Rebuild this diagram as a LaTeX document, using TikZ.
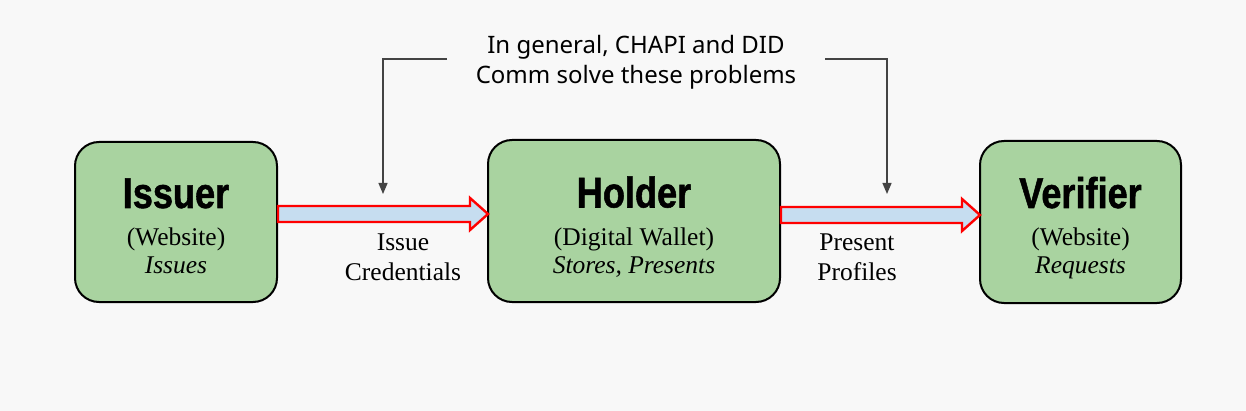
\documentclass[tikz,border=0pt]{standalone}
\usepackage{fontspec}
\setmainfont{Liberation Serif}
\newfontfamily\titlefont[FakeStretch=0.84,FakeBold=1.2]{Liberation Sans}
\newfontfamily\topfont{Noto Sans}
\usetikzlibrary{calc,arrows.meta}
\definecolor{bg}{HTML}{F8F8F8}
\definecolor{boxgreen}{HTML}{A9D3A0}
\definecolor{arrowblue}{HTML}{C6DDF0}
\definecolor{linegray}{HTML}{444444}
\tikzset{
  actor/.style={draw=black, line width=2pt, fill=boxgreen, rounded corners=24pt, inner sep=0pt},
  ttl/.style={anchor=base, font=\titlefont\bfseries\fontsize{43}{43}\selectfont},
  sub/.style={anchor=base, font=\fontsize{25.5}{28}\selectfont},
  lbl/.style={anchor=base, font=\fontsize{25.5}{28}\selectfont},
  bigarrow/.style={draw=red, line width=2.4pt, fill=arrowblue, line join=miter},
  conn/.style={draw=linegray, line width=1.3pt, -{Triangle[length=11pt,width=9pt]}},
}
\begin{document}
\begin{tikzpicture}[x=1pt,y=-1pt]
\fill[bg] (0,0) rectangle (1246,411);
\useasboundingbox (0,0) rectangle (1246,411);
% boxes
\node[actor, minimum width=202pt, minimum height=160pt] (iss) at (176,222) {};
\node[actor, minimum width=292pt, minimum height=162pt] (hol) at (634,221) {};
\node[actor, minimum width=201pt, minimum height=162pt] (ver) at (1080.5,222) {};
% texts in boxes
\node[ttl] (issT) at (176,208) {Issuer};
\node[sub] (issS) at (176,246) {(Website)};
\node[sub] (issI) at (176,274) {\itshape Issues};
\node[ttl] (holT) at (634,207.5) {Holder};
\node[sub] (holS) at (634,246) {(Digital Wallet)};
\node[sub] (holI) at (634,274) {\itshape Stores, Presents};
\node[ttl] (verT) at (1080.5,208) {Verifier};
\node[sub] (verS) at (1080.5,246) {(Website)};
\node[sub] (verI) at (1080.5,274) {\itshape Requests};
% big arrows
\coordinate (a1s) at (iss.east |- 0,214);
\coordinate (a1e) at (hol.west |- 0,214);
\coordinate (a2s) at (hol.east |- 0,215);
\coordinate (a2e) at (ver.west |- 0,215);
\draw[bigarrow] ($(a1s)+(0,-8)$) -- ($(a1e)+(-17,-8)$) -- ($(a1e)+(-17,-16)$)
  -- ($(a1e)+(1,0)$) -- ($(a1e)+(-17,16)$) -- ($(a1e)+(-17,8)$) -- ($(a1s)+(0,8)$) -- cycle;
\draw[bigarrow] ($(a2s)+(0,-8)$) -- ($(a2e)+(-17,-8)$) -- ($(a2e)+(-17,-16)$)
  -- ($(a2e)+(1,0)$) -- ($(a2e)+(-17,16)$) -- ($(a2e)+(-17,8)$) -- ($(a2s)+(0,8)$) -- cycle;
% arrow labels
\node[lbl] (l1a) at (403,251) {Issue};
\node[lbl] (l1b) at (403,280) {Credentials};
\node[lbl] (l2a) at (857,251) {Present};
\node[lbl] (l2b) at (857,280) {Profiles};
% top note
\node[anchor=base, font=\topfont\fontsize{24}{30}\selectfont] (top1) at (636,54) {In general, CHAPI and DID};
\node[anchor=base, font=\topfont\fontsize{24}{30}\selectfont] (top2) at (636,84) {Comm solve these problems};
\coordinate (cl) at (447,59);
\coordinate (cr) at (825,59);
\coordinate (tl) at (383,194);
\coordinate (tr) at (887,194);
\draw[conn] (cl) -- (cl -| tl) -- (tl);
\draw[conn] (cr) -- (cr -| tr) -- (tr);
\end{tikzpicture}
\end{document}
